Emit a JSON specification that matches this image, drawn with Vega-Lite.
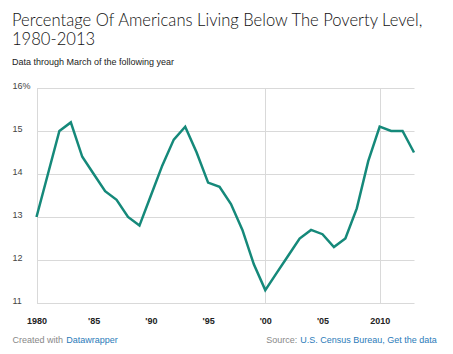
{
  "$schema": "https://vega.github.io/schema/vega-lite/v6.json",
  "width": 402,
  "height": 215,
  "autosize": {"type": "none"},
  "padding": {"left": 12, "top": 88, "right": 39, "bottom": 51},
  "background": "white",
  "config": {"view": {"stroke": null}, "font": "Liberation Sans"},
  "title": {
    "text": ["Percentage Of Americans Living Below The Poverty Level,", "1980-2013"],
    "subtitle": "Data through March of the following year",
    "anchor": "start",
    "frame": "group",
    "font": "Lato",
    "fontSize": 16.6,
    "fontWeight": 300,
    "color": "#111111",
    "lineHeight": 19.5,
    "subtitleFont": "Liberation Sans",
    "subtitleFontSize": 9,
    "subtitleColor": "#222222",
    "subtitlePadding": 9,
    "offset": 14
  },
  "data": {
    "values": [
      {"year": 1980, "rate": 13.0}, {"year": 1981, "rate": 14.0}, {"year": 1982, "rate": 15.0},
      {"year": 1983, "rate": 15.2}, {"year": 1984, "rate": 14.4}, {"year": 1985, "rate": 14.0},
      {"year": 1986, "rate": 13.6}, {"year": 1987, "rate": 13.4}, {"year": 1988, "rate": 13.0},
      {"year": 1989, "rate": 12.8}, {"year": 1990, "rate": 13.5}, {"year": 1991, "rate": 14.2},
      {"year": 1992, "rate": 14.8}, {"year": 1993, "rate": 15.1}, {"year": 1994, "rate": 14.5},
      {"year": 1995, "rate": 13.8}, {"year": 1996, "rate": 13.7}, {"year": 1997, "rate": 13.3},
      {"year": 1998, "rate": 12.7}, {"year": 1999, "rate": 11.9}, {"year": 2000, "rate": 11.3},
      {"year": 2001, "rate": 11.7}, {"year": 2002, "rate": 12.1}, {"year": 2003, "rate": 12.5},
      {"year": 2004, "rate": 12.7}, {"year": 2005, "rate": 12.6}, {"year": 2006, "rate": 12.3},
      {"year": 2007, "rate": 12.5}, {"year": 2008, "rate": 13.2}, {"year": 2009, "rate": 14.3},
      {"year": 2010, "rate": 15.1}, {"year": 2011, "rate": 15.0}, {"year": 2012, "rate": 15.0},
      {"year": 2013, "rate": 14.5}
    ]
  },
  "layer": [
    {
      "mark": {"type": "line", "strokeOpacity": 0},
      "encoding": {
        "x": {
          "field": "year", "type": "quantitative",
          "scale": {"domain": [1980, 2013], "range": [24.5, 402], "nice": false, "zero": false},
          "axis": {
            "orient": "bottom", "values": [1980, 2000, 2010], "grid": true, "gridColor": "#d9d9d9", "gridWidth": 1,
            "labels": false, "ticks": false, "tickSize": 0, "domain": false,
            "title": "Datawrapper", "titleX": 53.7, "titleY": 39, "titleAlign": "left", "titleAnchor": null,
            "titleBaseline": "alphabetic", "titleColor": "#2b7bb9", "titleFontSize": 9, "titleFontWeight": "normal"
          }
        },
        "y": {
          "field": "rate", "type": "quantitative",
          "scale": {"domain": [11, 16], "nice": false, "zero": false},
          "axis": {
            "orient": "right", "grid": false, "labels": false, "ticks": false, "tickSize": 0, "domain": false,
            "title": "Source:", "titleAngle": 0, "titleX": -148.3, "titleY": 254.3, "titleAlign": "left",
            "titleAnchor": null, "titleBaseline": "alphabetic", "titleColor": "#888888", "titleFontSize": 9, "titleFontWeight": "normal"
          }
        }
      }
    },
    {
      "mark": {"type": "line", "strokeOpacity": 0},
      "encoding": {
        "x": {"field": "year", "type": "quantitative", "axis": null},
        "y": {
          "field": "rate", "type": "quantitative",
          "axis": {
            "orient": "right", "grid": false, "labels": false, "ticks": false, "tickSize": 0, "domain": false,
            "title": "U.S. Census Bureau, Get the data", "titleAngle": 0, "titleX": -114.3, "titleY": 254.3, "titleAlign": "left",
            "titleAnchor": null, "titleBaseline": "alphabetic", "titleColor": "#2b7bb9", "titleFontSize": 9, "titleFontWeight": "normal"
          }
        }
      }
    },
    {
      "mark": {"type": "line", "color": "#15897a", "strokeWidth": 2.5, "strokeJoin": "miter"},
      "encoding": {
        "x": {
          "field": "year", "type": "quantitative",
          "axis": {
            "orient": "bottom", "values": [1980, 1985, 1990, 1995, 2000, 2005, 2010], "grid": false,
            "ticks": false, "tickSize": 0, "domain": false, "format": "d",
            "labelExpr": "(datum.value == 1980 || datum.value == 2010) ? datum.label : \"'\" + slice(datum.label, 2)",
            "labelFontSize": 9, "labelFontWeight": "bold", "labelColor": "#222222", "labelPadding": 20,
            "labelBaseline": "alphabetic", "labelAlign": "center",
            "title": "Created with", "titleX": 0, "titleY": 39, "titleAlign": "left", "titleAnchor": null,
            "titleBaseline": "alphabetic", "titleColor": "#888888", "titleFontSize": 9, "titleFontWeight": "normal"
          }
        },
        "y": {
          "field": "rate", "type": "quantitative",
          "axis": {
            "orient": "left", "values": [11, 12, 13, 14, 15, 16], "grid": true, "gridColor": "#d9d9d9", "gridWidth": 1,
            "ticks": false, "tickSize": 0, "domain": false, "labelPadding": 0, "labelAlign": "left",
            "labelBaseline": "alphabetic", "labelDy": -4, "labelFontSize": 9, "labelColor": "#444444",
            "labelExpr": "datum.value == 16 ? datum.label + '%' : datum.label",
            "title": null
          }
        }
      }
    }
  ],
  "resolve": {"axis": {"x": "independent", "y": "independent"}}
}
